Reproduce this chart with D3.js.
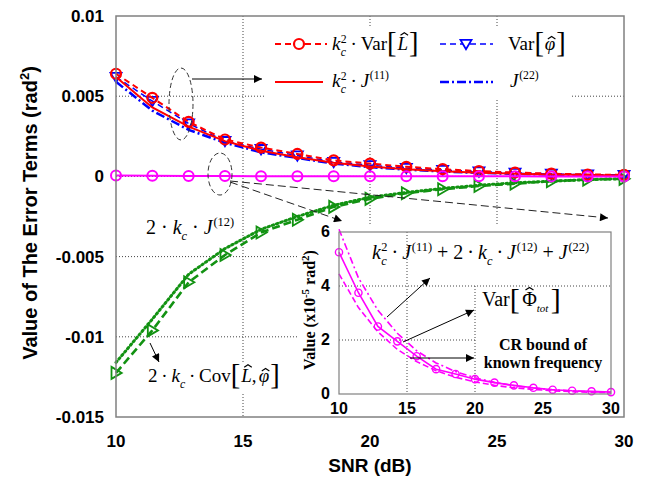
<!DOCTYPE html>
<html><head><meta charset="utf-8">
<script src="https://cdn.jsdelivr.net/npm/d3@7/dist/d3.min.js"></script>
<style>body{margin:0;background:#fff}svg{display:block}</style>
</head><body>
<svg id="chart" width="647" height="477"></svg>
<script>
// SNR sample points (dB)
const snr = [10, 11.43, 12.86, 14.29, 15.71, 17.14, 18.57, 20, 21.43, 22.86, 24.29, 25.71, 27.14, 28.57, 30];
// error terms (rad^2)
const kVarL  = [0.0064, 0.0049, 0.0034, 0.0023, 0.0018, 0.0014, 0.0010, 0.0008, 0.0006, 0.00045, 0.00033, 0.00024, 0.00017, 0.00012, 0.0001];
const varPhi = [0.0062, 0.0047, 0.0033, 0.0022, 0.0017, 0.0013, 0.0009, 0.0007, 0.00052, 0.0004, 0.0003, 0.00022, 0.00016, 0.00011, 0.00008];
const kJ11   = [0.0062, 0.0043, 0.0031, 0.0022, 0.0016, 0.0012, 0.00085, 0.00062, 0.00045, 0.00032, 0.00023, 0.00017, 0.00012, 0.00009, 0.00006];
const J22    = [0.0059, 0.0041, 0.0029, 0.0021, 0.0015, 0.00115, 0.0008, 0.00058, 0.00042, 0.0003, 0.00022, 0.00016, 0.00011, 0.00008, 0.00006];
const kCov   = [-0.01225, -0.0096, -0.0066, -0.0049, -0.0035, -0.0027, -0.0019, -0.0014, -0.00105, -0.0008, -0.0006, -0.00045, -0.0003, -0.0002, -0.00015];
const kJ12   = [-0.0116, -0.0089, -0.0061, -0.0045, -0.0033, -0.0025, -0.0018, -0.0013, -0.0010, -0.00075, -0.00055, -0.0004, -0.0003, -0.0002, -0.00014];
// total phase variance and bounds (x1e-5 rad^2)
const varTot   = [5.25, 3.75, 2.5, 1.95, 1.4, 0.92, 0.74, 0.55, 0.42, 0.32, 0.23, 0.16, 0.12, 0.1, 0.07];
const crbTotal = [6.1, 4.3, 3.1, 2.25, 1.6, 1.15, 0.83, 0.6, 0.43, 0.31, 0.22, 0.16, 0.11, 0.08, 0.06];
const crbKnown = [4.45, 3.2, 2.3, 1.65, 1.2, 0.86, 0.62, 0.45, 0.32, 0.23, 0.17, 0.12, 0.09, 0.06, 0.05];

const yTicks = [0.01, 0.005, 0, -0.005, -0.01, -0.015];
const yTickLabels = ["0.01", "0.005", "0", "-0.005", "-0.01", "-0.015"];
const xTicks = [10, 15, 20, 25, 30];
const insetYTicks = [0, 2, 4, 6];

const svg = d3.select("#chart");
const SANS = "'Liberation Sans', Arial, sans-serif";
const SERIF = "'Liberation Serif', 'Times New Roman', serif";

const x = d3.scaleLinear().domain([10, 30]).range([116, 624]);
const y = d3.scaleLinear().domain([-0.015, 0.01]).range([417, 16]);

// arrow markers
const defs = svg.append("defs");
defs.append("marker").attr("id", "ah").attr("viewBox", "0 0 10 10").attr("refX", 10).attr("refY", 5)
  .attr("markerWidth", 11).attr("markerHeight", 8).attr("markerUnits", "userSpaceOnUse").attr("orient", "auto")
  .append("path").attr("d", "M0,0L10,5L0,10Z").attr("fill", "#000");

// dotted grid
const grid = svg.append("g").attr("stroke", "#444").attr("stroke-width", 1).attr("stroke-dasharray", "1,2");
[15, 20, 25].forEach(v => grid.append("line").attr("x1", x(v)).attr("x2", x(v)).attr("y1", y(0.01)).attr("y2", y(-0.015)));
[0.005, 0, -0.005, -0.01].forEach(v => grid.append("line").attr("x1", x(10)).attr("x2", x(30)).attr("y1", y(v)).attr("y2", y(v)));

// legend and inset panels hide the grid behind them
svg.append("rect").attr("x", 265).attr("y", 28).attr("width", 307).attr("height", 70).attr("fill", "#fff");
svg.append("rect").attr("x", 297).attr("y", 224).attr("width", 327).attr("height", 193).attr("fill", "#fff");

function markerPath(type, s) {
  if (type === "v") return `M${-s},${-s * 0.75}L${s},${-s * 0.75}L0,${s * 0.95}Z`;
  if (type === ">") return `M${-s * 0.75},${-s}L${s * 0.95},0L${-s * 0.75},${s}Z`;
  return null;
}

function series(g, xs, ys, xsc, ysc, o) {
  const line = d3.line().x((d, i) => xsc(xs[i])).y(d => ysc(d));
  g.append("path").datum(ys).attr("d", line).attr("fill", "none").attr("stroke", o.color)
    .attr("stroke-width", o.width).attr("stroke-dasharray", o.dash || null).attr("stroke-linecap", o.cap || "butt");
  if (o.marker === "o") {
    g.selectAll(null).data(ys).join("circle").attr("cx", (d, i) => xsc(xs[i])).attr("cy", d => ysc(d))
      .attr("r", o.ms).attr("fill", "none").attr("stroke", o.color).attr("stroke-width", o.mw);
  } else if (o.marker) {
    g.selectAll(null).data(ys).join("path").attr("transform", (d, i) => `translate(${xsc(xs[i])},${ysc(d)})`)
      .attr("d", markerPath(o.marker, o.ms)).attr("fill", "none").attr("stroke", o.color).attr("stroke-width", o.mw);
  }
}

const plot = svg.append("g");
series(plot, snr, kJ12, x, y, {color: "#129212", width: 3, dash: "1.5,3", cap: "round"});
series(plot, snr, kCov, x, y, {color: "#129212", width: 2.6, dash: "8,4", marker: ">", ms: 6, mw: 1.8});
series(plot, snr, J22, x, y, {color: "#0000ff", width: 2.5, dash: "9,3,2,3"});
series(plot, snr, varPhi, x, y, {color: "#0000ff", width: 1.5, dash: "6,4", marker: "v", ms: 5.5, mw: 1.8});
series(plot, snr, kJ11, x, y, {color: "#ff0000", width: 2});
series(plot, snr, kVarL, x, y, {color: "#ff0000", width: 2, dash: "6,4", marker: "o", ms: 5, mw: 2.2});
series(plot, snr, varTot.map(v => v * 1e-5), x, y, {color: "#ff00ff", width: 2, marker: "o", ms: 5, mw: 2});

// math-style text laid out piece by piece; "hat" draws a circumflex over the piece
function mathText(parent, x0, y0, size, pieces, weight) {
  const g = parent.append("g").attr("transform", `translate(${x0},${y0})`);
  let cx = 0, stackW = 0;
  pieces.forEach(p => {
    const o = p[1] || {};
    if (o.dx) cx += o.dx * size;
    const fs = size * (o.sc || 1);
    const ty = (o.dy || 0) * size;
    const t = g.append("text").attr("x", cx).attr("y", ty)
      .attr("font-family", SERIF).attr("font-size", fs)
      .attr("font-style", o.it ? "italic" : "normal").attr("font-weight", weight || "normal")
      .attr("fill", "#000").text(p[0]);
    const w = t.node().getComputedTextLength();
    if (o.hat) {
      const hc = cx + w / 2 + (o.it ? 0.08 * fs : 0);
      const hw = 0.2 * fs, base = ty - o.hat * fs, peak = base - 0.13 * fs;
      g.append("path").attr("d", `M${hc - hw},${base}L${hc},${peak}L${hc + hw},${base}`)
        .attr("fill", "none").attr("stroke", "#000").attr("stroke-width", 0.06 * fs);
    }
    if (o.stack) stackW = Math.max(stackW, w);
    else { cx += Math.max(w, stackW); stackW = 0; }
  });
  return cx;
}
const BR = {sc: 1.5, dy: 0.13};
const kc2 = [["k", {it: 1}], ["2", {sc: 0.62, dy: -0.38, stack: 1, dx: 0.02}], ["c", {it: 1, sc: 0.62, dy: 0.3}]];
const kc = [["k", {it: 1}], ["c", {it: 1, sc: 0.62, dy: 0.3}]];
const dot = [["\u2009\u00b7\u2009"]];
const wdot = [["\u00a0\u00b7\u00a0"]];
const J = s => [["J", {it: 1}], [`(${s})`, {sc: 0.62, dy: -0.42, dx: 0.04}]];

// legend
const leg = svg.append("g");
function legLine(x1, x2, yy, color, width, dash) {
  leg.append("line").attr("x1", x1).attr("x2", x2).attr("y1", yy).attr("y2", yy).attr("stroke", color)
    .attr("stroke-width", width).attr("stroke-dasharray", dash || null);
}
legLine(275, 327, 44, "#ff0000", 2, "6,4");
leg.append("circle").attr("cx", 299).attr("cy", 44).attr("r", 5).attr("fill", "#fff").attr("stroke", "#ff0000").attr("stroke-width", 2.2);
legLine(440, 493, 44, "#0000ff", 1.5, "6,4");
leg.append("path").attr("transform", "translate(466,44)").attr("d", markerPath("v", 5.5)).attr("fill", "#fff")
  .attr("stroke", "#0000ff").attr("stroke-width", 1.8);
legLine(275, 323, 82, "#ff0000", 2);
legLine(440, 493, 82, "#0000ff", 2.5, "9,3,2,3");
mathText(leg, 332, 50, 19, [...kc2, ...dot, ["Var"], ["[", BR], ["L", {it: 1, dx: 0.05, hat: 0.78}], ["]", {...BR, dx: 0.05}]]);
mathText(leg, 508, 50, 19, [["Var"], ["[", BR], ["\u03c6", {it: 1, dx: 0.05, hat: 0.58}], ["]", {...BR, dx: 0.05}]]);
mathText(leg, 332, 87, 19, [...kc2, ...dot, ...J("11")]);
mathText(leg, 510, 87, 19, J("22"));

// annotations on the main axes
const ann = svg.append("g").attr("fill", "none").attr("stroke", "#000");
ann.append("ellipse").attr("cx", 181).attr("cy", 104).attr("rx", 12).attr("ry", 36).attr("stroke", "#333").attr("stroke-dasharray", "5,3").attr("stroke-width", 1);
ann.append("line").attr("x1", 192).attr("y1", 79).attr("x2", 262).attr("y2", 79).attr("stroke-width", 1).attr("marker-end", "url(#ah)");
ann.append("ellipse").attr("cx", 220).attr("cy", 174).attr("rx", 12).attr("ry", 21).attr("stroke", "#333").attr("stroke-dasharray", "5,3").attr("stroke-width", 1);
ann.append("line").attr("x1", 230).attr("y1", 181).attr("x2", 608).attr("y2", 218).attr("stroke", "#222").attr("stroke-dasharray", "8,4").attr("stroke-width", 1).attr("marker-end", "url(#ah)");
ann.append("line").attr("x1", 230).attr("y1", 182).attr("x2", 342).attr("y2", 221).attr("stroke", "#222").attr("stroke-dasharray", "8,4").attr("stroke-width", 1).attr("marker-end", "url(#ah)");
ann.append("line").attr("x1", 150).attr("y1", 343).attr("x2", 159).attr("y2", 362).attr("stroke-width", 1).attr("marker-end", "url(#ah)");

mathText(svg, 146, 234, 20, [["2"], ...wdot, ...kc, ...wdot, ...J("12")]);
svg.append("rect").attr("x", 146).attr("y", 362).attr("width", 136).attr("height", 32).attr("fill", "#fff");
mathText(svg, 148, 382, 19, [["2"], ...dot, ...kc, ...dot, ["Cov"], ["[", BR], ["L", {it: 1, dx: 0.05, hat: 0.78}], [","], ["\u03c6", {it: 1, dx: 0.12, hat: 0.58}], ["]", {...BR, dx: 0.05}]]);

// main frame, ticks and labels
svg.append("rect").attr("x", 116).attr("y", 16).attr("width", 508).attr("height", 401).attr("fill", "none").attr("stroke", "#808080").attr("stroke-width", 1.5);
svg.append("g").selectAll("text").data(yTicks).join("text").attr("x", 104).attr("y", d => y(d) + 6)
  .attr("text-anchor", "end").attr("font-family", SANS).attr("font-weight", "bold").attr("font-size", 17)
  .text((d, i) => yTickLabels[i]);
svg.append("g").selectAll("text").data(xTicks).join("text").attr("x", d => x(d)).attr("y", 447)
  .attr("text-anchor", "middle").attr("font-family", SANS).attr("font-weight", "bold").attr("font-size", 17).text(d => d);
svg.append("text").attr("x", 370).attr("y", 472).attr("text-anchor", "middle").attr("font-family", SANS)
  .attr("font-weight", "bold").attr("font-size", 19).text("SNR (dB)");
const yl = svg.append("text").attr("transform", "translate(37,213) rotate(-90)").attr("text-anchor", "middle")
  .attr("font-family", SANS).attr("font-weight", "bold").attr("font-size", 20);
yl.append("tspan").text("Value of The Error Terms (rad");
yl.append("tspan").attr("dy", -8).attr("font-size", 13).text("2");
yl.append("tspan").attr("dy", 8).text(")");

// inset: total phase variance versus bounds
const xi = d3.scaleLinear().domain([10, 30]).range([339, 611]);
const yi = d3.scaleLinear().domain([0, 6]).range([394, 232]);
const ig = svg.append("g");
const igrid = ig.append("g").attr("stroke", "#444").attr("stroke-width", 1).attr("stroke-dasharray", "1,2");
igrid.append("line").attr("x1", xi(10)).attr("x2", xi(30)).attr("y1", yi(4)).attr("y2", yi(4));
igrid.append("line").attr("x1", xi(10)).attr("x2", xi(20)).attr("y1", yi(2)).attr("y2", yi(2));
igrid.append("line").attr("x1", xi(15)).attr("x2", xi(15)).attr("y1", yi(6)).attr("y2", yi(0));
igrid.append("line").attr("x1", xi(20)).attr("x2", xi(20)).attr("y1", yi(4)).attr("y2", yi(0));
series(ig, snr, crbTotal, xi, yi, {color: "#ff00ff", width: 1.6, dash: "7,3,2,3"});
series(ig, snr, crbKnown, xi, yi, {color: "#ff00ff", width: 1.6, dash: "6,3"});
series(ig, snr, varTot, xi, yi, {color: "#ff00ff", width: 1.6, marker: "o", ms: 3.6, mw: 1.4});
ig.append("rect").attr("x", 339).attr("y", 232).attr("width", 272).attr("height", 162).attr("fill", "none").attr("stroke", "#808080").attr("stroke-width", 1.2);
ig.selectAll(".iyt").data(insetYTicks).join("text").attr("x", 330).attr("y", d => yi(d) + 5).attr("text-anchor", "end")
  .attr("font-family", SANS).attr("font-weight", "bold").attr("font-size", 16).text(d => d);
ig.selectAll(".ixt").data(xTicks).join("text").attr("x", d => xi(d)).attr("y", 414).attr("text-anchor", "middle")
  .attr("font-family", SANS).attr("font-weight", "bold").attr("font-size", 16).text(d => d);
const iyl = ig.append("text").attr("transform", "translate(315,310) rotate(-90)").attr("text-anchor", "middle")
  .attr("font-family", SERIF).attr("font-weight", "bold").attr("font-size", 16);
iyl.append("tspan").text("Value (x10");
iyl.append("tspan").attr("dy", -6).attr("font-size", 11).text("-5");
iyl.append("tspan").attr("dy", 6).text(" rad");
iyl.append("tspan").attr("dy", -6).attr("font-size", 11).text("2");
iyl.append("tspan").attr("dy", 6).text(")");

mathText(ig, 372, 259, 20, [...kc2, ...dot, ...J("11"), ["\u00a0+\u00a02"], ...dot, ...kc, ...dot, ...J("12"), ["\u00a0+\u00a0"], ...J("22")]);
mathText(ig, 482, 306, 20, [["Var"], ["[", BR], ["\u03a6", {dx: 0.12, hat: 0.8}], ["tot", {it: 1, sc: 0.55, dy: 0.3}], ["]", {...BR, dx: 0.12}]]);
ig.append("text").attr("x", 543).attr("y", 350).attr("text-anchor", "middle").attr("font-family", SERIF)
  .attr("font-weight", "bold").attr("font-size", 16).text("CR bound of");
ig.append("text").attr("x", 543).attr("y", 368).attr("text-anchor", "middle").attr("font-family", SERIF)
  .attr("font-weight", "bold").attr("font-size", 16).text("known frequency");
const ia = ig.append("g").attr("stroke", "#000").attr("stroke-width", 1);
ia.append("line").attr("x1", 387).attr("y1", 317).attr("x2", 430).attr("y2", 278).attr("marker-end", "url(#ah)");
ia.append("line").attr("x1", 403).attr("y1", 342).attr("x2", 474).attr("y2", 310).attr("marker-end", "url(#ah)");
ia.append("line").attr("x1", 410).attr("y1", 358).attr("x2", 474).attr("y2", 358).attr("marker-end", "url(#ah)");
</script>
</body></html>
